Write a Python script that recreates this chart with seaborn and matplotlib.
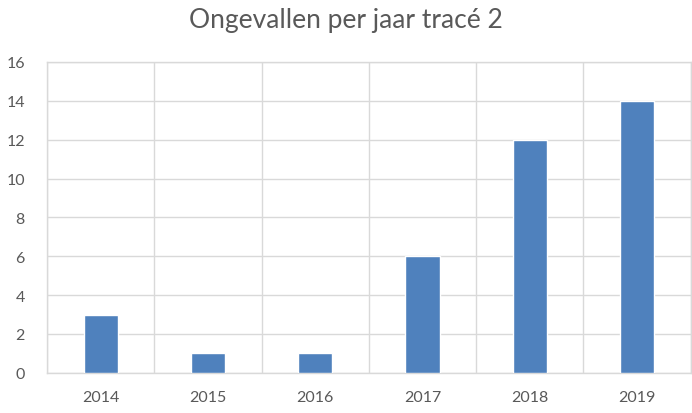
import matplotlib
matplotlib.use("Agg")
import matplotlib.pyplot as plt
import seaborn as sns
import numpy as np

# data
years = ["2014", "2015", "2016", "2017", "2018", "2019"]
accidents = [3, 1, 1, 6, 12, 14]
y_ticks = [0, 2, 4, 6, 8, 10, 12, 14, 16]

sns.set_style("white")
plt.rcParams["font.family"] = ["Lato", "DejaVu Sans"]

fig = plt.figure(figsize=(6.92, 4.14), dpi=100)
ax = fig.add_axes([0.068, 0.097, 0.930, 0.751])

sns.barplot(x=years, y=accidents, color="#4F81BD", width=0.32,
            saturation=1, ax=ax, zorder=3)

ax.set_ylim(0, 16)
ax.set_yticks(y_ticks)
ax.set_xlim(-0.5, len(years) - 0.5)

# vertical grid lines between categories
ax.set_xticks(np.arange(-0.5, len(years)), minor=True)
ax.grid(True, axis="y", color="#D9D9D9", linewidth=1, zorder=0)
ax.grid(True, axis="x", which="minor", color="#D9D9D9", linewidth=1, zorder=0)
ax.tick_params(axis="both", which="both", length=0, labelsize=11.5,
               labelcolor="#595959")
ax.tick_params(axis="x", pad=12)
ax.tick_params(axis="y", pad=16)

for s in ax.spines.values():
    s.set_color("#D9D9D9")
    s.set_linewidth(1)

ax.set_xlabel("")
ax.set_ylabel("")

fig.suptitle("Ongevallen per jaar tracé 2", fontsize=19, color="#595959",
             y=0.98)

fig.savefig("out.png", dpi=100)
